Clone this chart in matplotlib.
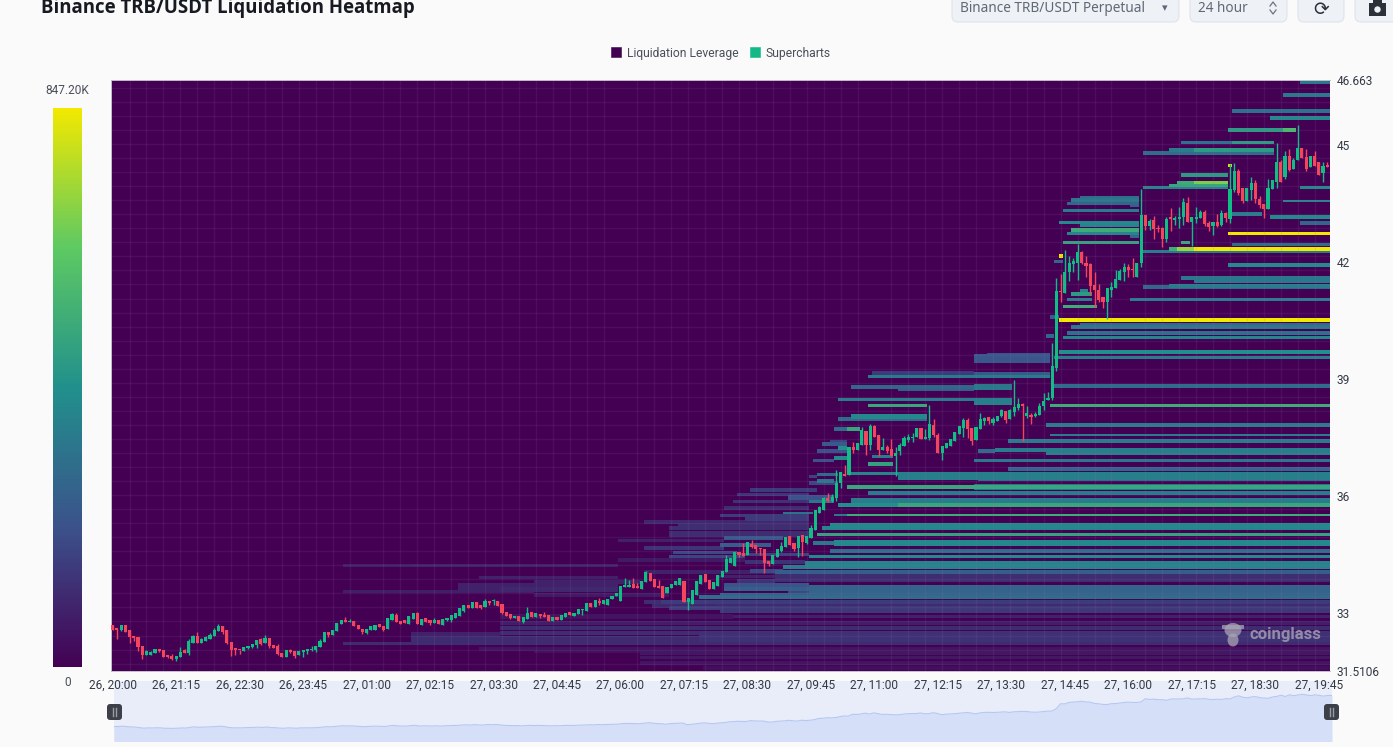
# -*- coding: utf-8 -*-
# TRB/USDT liquidation heatmap with 5 min candles, 24 h window
import matplotlib
matplotlib.use('Agg')
import matplotlib.pyplot as plt
import numpy as np
from matplotlib.colors import LinearSegmentedColormap
from matplotlib.lines import Line2D
from matplotlib.patches import Circle, Ellipse, FancyBboxPatch, Patch, Rectangle
from matplotlib.transforms import IdentityTransform

plt.rcParams['font.family'] = ['Roboto', 'DejaVu Sans']

W, H = 1393, 747

time_labels = ['26, 20:00', '26, 21:15', '26, 22:30', '26, 23:45', '27, 01:00', '27, 02:15', '27, 03:30',
               '27, 04:45', '27, 06:00', '27, 07:15', '27, 08:30', '27, 09:45', '27, 11:00', '27, 12:15',
               '27, 13:30', '27, 14:45', '27, 16:00', '27, 17:15', '27, 18:30', '27, 19:45']
price_ticks = [31.5106, 33, 36, 39, 42, 45, 46.663]
price_tick_labels = ['31.5106', '33', '36', '39', '42', '45', '46.663']
max_liq = 847200

opens = [
    32.69, 32.62, 32.55, 32.68, 32.56, 32.41, 32.38, 32.15, 31.91, 31.93,
    31.96, 32.07, 32.06, 31.91, 31.89, 31.81, 31.86, 32.04, 31.98, 32.24,
    32.42, 32.24, 32.27, 32.34, 32.40, 32.53, 32.66, 32.55, 32.26, 32.07,
    32.06, 32.02, 32.09, 32.12, 32.18, 32.32, 32.22, 32.35, 32.17, 32.14,
    31.97, 31.87, 32.06, 32.03, 31.91, 32.01, 32.02, 32.04, 32.05, 32.12,
    32.25, 32.50, 32.43, 32.54, 32.72, 32.80, 32.76, 32.80, 32.69, 32.58,
    32.48, 32.57, 32.56, 32.71, 32.66, 32.58, 32.82, 32.95, 32.80, 32.82,
    32.72, 32.84, 33.01, 32.70, 32.86, 32.81, 32.74, 32.83, 32.70, 32.82,
    32.81, 32.87, 32.91, 33.05, 33.21, 33.12, 33.28, 33.21, 33.14, 33.30,
    33.30, 33.30, 33.23, 33.02, 32.96, 32.86, 32.92, 32.76, 32.84, 33.03,
    32.90, 32.97, 32.95, 32.94, 32.80, 32.89, 32.82, 32.90, 33.02, 32.92,
    32.96, 33.07, 33.05, 33.25, 33.16, 33.31, 33.22, 33.21, 33.36, 33.44,
    33.31, 33.66, 33.67, 33.73, 33.69, 33.62, 33.79, 34.02, 33.86, 33.69,
    33.69, 33.50, 33.64, 33.71, 33.72, 33.83, 33.27, 33.22, 33.46, 33.73,
    33.99, 33.84, 33.62, 33.70, 33.93, 34.04, 34.27, 34.19, 34.55, 34.53,
    34.49, 34.77, 34.73, 34.67, 34.64, 34.33, 34.26, 34.44, 34.59, 34.70,
    34.97, 34.79, 34.66, 35.00, 34.79, 34.93, 35.13, 35.57, 35.64, 35.94,
    35.88, 35.94, 36.32, 36.56, 36.54, 37.26, 37.18, 37.31, 37.67, 37.31,
    37.78, 37.55, 37.18, 37.25, 37.20, 37.03, 37.14, 37.28, 37.44, 37.48,
    37.52, 37.73, 37.45, 37.48, 37.82, 37.56, 37.11, 37.22, 37.28, 37.42,
    37.59, 37.73, 37.95, 37.75, 37.44, 37.71, 37.91, 38.01, 37.86, 37.93,
    38.05, 38.18, 37.97, 38.14, 38.25, 38.33, 38.06, 38.08, 38.05, 38.08,
    38.31, 38.46, 38.50, 39.27, 41.24, 41.21, 41.75, 41.95, 41.97, 42.25,
    41.97, 41.94, 41.41, 41.28, 41.11, 40.96, 41.28, 41.32, 41.54, 41.74,
    41.88, 41.81, 41.62, 41.97, 43.19, 42.92, 43.08, 42.88, 42.86, 42.58,
    43.12, 43.08, 43.10, 43.15, 43.52, 43.01, 43.11, 43.13, 43.27, 43.00,
    42.91, 43.01, 42.94, 43.26, 43.09, 43.83, 44.32, 43.89, 43.57, 43.85,
    44.03, 43.62, 43.49, 43.36, 43.87, 44.06, 44.55, 44.17, 44.72, 44.38,
    44.60, 44.91, 44.70, 44.44, 44.72, 44.55, 44.27, 44.46,
]
closes = [
    32.56, 32.55, 32.68, 32.52, 32.38, 32.35, 32.12, 31.91, 32.03, 31.99,
    32.07, 32.03, 31.88, 31.88, 31.83, 31.90, 32.00, 31.97, 32.27, 32.41,
    32.24, 32.33, 32.39, 32.44, 32.55, 32.67, 32.52, 32.22, 32.05, 32.05,
    32.04, 32.13, 32.16, 32.21, 32.30, 32.20, 32.35, 32.14, 32.11, 31.95,
    31.88, 32.05, 31.99, 31.90, 32.03, 32.04, 32.07, 32.08, 32.15, 32.29,
    32.50, 32.44, 32.56, 32.74, 32.82, 32.77, 32.79, 32.67, 32.58, 32.50,
    32.58, 32.67, 32.68, 32.63, 32.56, 32.87, 32.97, 32.77, 32.72, 32.73,
    32.91, 33.01, 32.71, 32.85, 32.77, 32.73, 32.83, 32.71, 32.84, 32.88,
    32.94, 33.00, 33.13, 33.20, 33.12, 33.28, 33.13, 33.13, 33.31, 33.25,
    33.33, 33.17, 32.99, 32.93, 32.88, 32.93, 32.79, 32.89, 33.01, 32.90,
    32.99, 32.93, 32.90, 32.80, 32.89, 32.82, 32.95, 33.00, 32.95, 33.00,
    33.11, 33.10, 33.25, 33.16, 33.33, 33.25, 33.33, 33.36, 33.44, 33.50,
    33.69, 33.72, 33.72, 33.65, 33.63, 33.82, 34.04, 33.83, 33.67, 33.65,
    33.38, 33.67, 33.73, 33.83, 33.89, 33.27, 33.38, 33.59, 33.82, 33.97,
    33.79, 33.62, 33.79, 33.97, 34.08, 34.37, 34.42, 34.57, 34.49, 34.47,
    34.83, 34.68, 34.64, 34.63, 34.27, 34.25, 34.49, 34.64, 34.72, 34.94,
    34.73, 34.64, 34.97, 34.83, 34.97, 35.17, 35.64, 35.71, 35.94, 35.88,
    35.98, 36.32, 36.61, 36.51, 37.25, 37.18, 37.35, 37.69, 37.31, 37.78,
    37.50, 37.18, 37.25, 37.16, 37.03, 37.09, 37.31, 37.48, 37.50, 37.52,
    37.73, 37.45, 37.50, 37.84, 37.56, 37.09, 37.28, 37.35, 37.45, 37.63,
    37.78, 37.95, 37.71, 37.42, 37.76, 37.97, 37.99, 37.93, 37.97, 38.06,
    38.19, 37.95, 38.19, 38.29, 38.36, 38.31, 38.12, 38.03, 38.10, 38.31,
    38.44, 38.50, 39.32, 41.26, 41.22, 41.75, 41.97, 42.01, 42.25, 41.97,
    41.90, 41.38, 41.27, 41.03, 40.96, 41.32, 41.35, 41.56, 41.77, 41.88,
    41.79, 41.78, 41.98, 43.19, 42.92, 43.05, 42.84, 42.84, 42.58, 43.10,
    43.10, 43.12, 43.16, 43.53, 43.01, 43.14, 43.16, 43.27, 42.97, 42.89,
    43.01, 42.92, 43.25, 43.12, 43.87, 44.33, 43.76, 43.55, 43.89, 44.03,
    43.61, 43.46, 43.36, 43.89, 44.10, 44.55, 44.06, 44.72, 44.36, 44.62,
    44.91, 44.66, 44.38, 44.72, 44.46, 44.23, 44.46, 44.44,
]
highs = [
    32.70, 32.62, 32.69, 32.69, 32.56, 32.41, 32.38, 32.15, 32.05, 32.03,
    32.07, 32.07, 32.06, 31.91, 31.95, 31.90, 32.12, 32.08, 32.33, 32.44,
    32.50, 32.36, 32.40, 32.48, 32.62, 32.72, 32.66, 32.57, 32.26, 32.07,
    32.06, 32.13, 32.16, 32.21, 32.30, 32.36, 32.43, 32.35, 32.17, 32.20,
    31.97, 32.05, 32.07, 32.03, 32.03, 32.04, 32.07, 32.14, 32.15, 32.33,
    32.50, 32.50, 32.56, 32.74, 32.82, 32.89, 32.85, 32.80, 32.69, 32.58,
    32.58, 32.67, 32.68, 32.72, 32.66, 32.87, 33.01, 33.00, 32.80, 32.83,
    32.91, 33.01, 33.03, 32.85, 32.86, 32.81, 32.88, 32.83, 32.84, 32.88,
    32.94, 33.01, 33.13, 33.20, 33.21, 33.28, 33.28, 33.21, 33.35, 33.30,
    33.36, 33.30, 33.23, 33.02, 32.96, 32.93, 32.92, 32.89, 33.14, 33.03,
    33.01, 32.97, 33.02, 32.94, 32.89, 32.89, 32.95, 33.00, 33.02, 33.00,
    33.11, 33.10, 33.25, 33.25, 33.33, 33.37, 33.33, 33.36, 33.44, 33.50,
    33.69, 33.89, 33.85, 33.89, 33.76, 33.82, 34.08, 34.02, 33.86, 33.85,
    33.69, 33.67, 33.73, 33.83, 33.89, 33.83, 33.38, 33.59, 33.82, 33.97,
    33.99, 33.84, 33.79, 33.97, 34.08, 34.49, 34.42, 34.57, 34.55, 34.80,
    34.83, 34.87, 34.73, 34.67, 34.64, 34.33, 34.49, 34.64, 34.83, 34.94,
    34.97, 34.79, 34.97, 35.00, 34.97, 35.26, 35.64, 35.74, 35.98, 36.07,
    36.05, 36.67, 36.61, 36.78, 37.25, 37.39, 37.35, 37.76, 37.67, 37.84,
    37.82, 37.55, 37.48, 37.31, 37.45, 37.25, 37.35, 37.54, 37.58, 37.61,
    37.73, 37.73, 37.71, 38.33, 37.97, 37.61, 37.28, 37.35, 37.45, 37.63,
    37.78, 37.99, 37.99, 37.75, 37.76, 38.12, 38.03, 38.01, 38.01, 38.06,
    38.22, 38.18, 38.22, 38.97, 38.50, 38.38, 38.31, 38.12, 38.16, 38.38,
    38.65, 38.66, 39.91, 41.58, 41.69, 42.31, 42.16, 42.09, 42.46, 42.27,
    42.16, 41.97, 41.73, 41.44, 41.11, 41.32, 41.48, 41.79, 41.81, 41.97,
    41.94, 42.09, 41.98, 43.87, 43.19, 43.10, 43.18, 42.95, 42.89, 43.16,
    43.39, 43.18, 43.40, 43.63, 43.67, 43.16, 43.40, 43.33, 43.32, 43.06,
    43.01, 43.22, 43.32, 43.29, 44.51, 44.53, 44.38, 43.89, 43.89, 44.17,
    44.09, 43.69, 43.49, 44.12, 44.10, 45.04, 44.61, 44.83, 44.89, 44.66,
    45.51, 44.91, 44.89, 44.72, 44.85, 44.55, 44.55, 44.55,
]
lows = [
    32.55, 32.33, 32.54, 32.50, 32.24, 32.27, 32.03, 31.81, 31.91, 31.93,
    31.96, 31.99, 31.88, 31.84, 31.79, 31.77, 31.86, 31.97, 31.91, 32.24,
    32.24, 32.24, 32.27, 32.34, 32.40, 32.53, 32.46, 32.20, 31.90, 31.91,
    31.95, 32.02, 32.07, 32.09, 32.09, 32.18, 32.22, 32.11, 32.11, 31.91,
    31.88, 31.87, 31.97, 31.84, 31.91, 31.88, 31.95, 32.02, 32.00, 32.12,
    32.25, 32.38, 32.43, 32.54, 32.72, 32.77, 32.76, 32.67, 32.58, 32.46,
    32.46, 32.57, 32.56, 32.63, 32.54, 32.58, 32.82, 32.77, 32.72, 32.73,
    32.72, 32.84, 32.71, 32.70, 32.77, 32.68, 32.74, 32.71, 32.70, 32.80,
    32.76, 32.87, 32.91, 33.03, 33.12, 33.12, 33.13, 33.09, 33.14, 33.19,
    33.20, 33.17, 32.96, 32.93, 32.84, 32.86, 32.79, 32.73, 32.84, 32.90,
    32.90, 32.88, 32.90, 32.80, 32.80, 32.82, 32.82, 32.90, 32.95, 32.92,
    32.96, 32.95, 33.05, 33.16, 33.16, 33.19, 33.22, 33.21, 33.36, 33.44,
    33.31, 33.66, 33.67, 33.65, 33.63, 33.62, 33.79, 33.83, 33.67, 33.65,
    33.38, 33.50, 33.64, 33.71, 33.72, 33.27, 33.08, 33.22, 33.46, 33.73,
    33.79, 33.62, 33.62, 33.70, 33.93, 34.04, 34.27, 34.19, 34.43, 34.47,
    34.49, 34.66, 34.53, 34.49, 34.03, 34.19, 34.26, 34.44, 34.57, 34.70,
    34.73, 34.59, 34.43, 34.45, 34.76, 34.93, 35.13, 35.55, 35.64, 35.85,
    35.85, 35.88, 36.21, 36.51, 36.54, 37.09, 37.18, 37.31, 37.05, 37.18,
    37.50, 37.03, 37.18, 37.09, 37.03, 36.50, 37.05, 37.28, 37.39, 37.37,
    37.52, 37.45, 37.45, 37.44, 37.52, 37.09, 36.91, 37.22, 37.28, 37.42,
    37.59, 37.52, 37.48, 37.31, 37.44, 37.71, 37.82, 37.84, 37.82, 37.93,
    38.01, 37.88, 37.97, 38.06, 38.20, 37.41, 37.99, 37.85, 38.03, 38.08,
    38.20, 38.46, 38.45, 39.21, 40.98, 41.20, 41.52, 41.75, 41.54, 41.95,
    41.62, 41.15, 40.85, 40.96, 40.81, 40.53, 41.11, 41.32, 41.54, 41.50,
    41.62, 41.61, 41.62, 41.88, 42.82, 42.82, 42.58, 42.76, 42.37, 42.50,
    42.78, 42.95, 42.86, 42.95, 43.01, 42.41, 42.99, 43.13, 42.91, 42.80,
    42.69, 42.89, 42.91, 43.03, 42.99, 43.78, 43.72, 43.50, 43.57, 43.59,
    43.52, 43.38, 43.12, 43.36, 43.87, 43.89, 44.06, 44.12, 44.34, 44.38,
    44.60, 44.66, 44.34, 44.44, 44.46, 44.23, 44.06, 44.44,
]

# heatmap bands: price centre, band height, first/last candle, share of max liquidation
band_price = [
    46.62, 46.28, 45.87, 45.69, 45.38, 45.38, 45.05, 45.05, 44.87, 44.87,
    44.79, 44.46, 44.23, 44.03, 44.03, 43.95, 43.90, 43.90, 43.56, 43.23,
    43.15, 42.99, 42.73, 42.44, 42.33, 42.33, 42.33, 42.26, 41.92, 41.59,
    41.51, 41.38, 41.35, 41.03, 40.51, 40.38, 40.33, 40.18, 40.05, 39.69,
    39.54, 43.64, 43.59, 43.49, 43.44, 43.31, 43.00, 42.95, 42.82, 42.73,
    42.67, 42.49, 42.15, 42.00, 42.49, 41.18, 41.26, 41.03, 40.85, 40.59,
    40.10, 39.52, 39.62, 39.13, 39.15, 39.05, 38.79, 38.75, 38.79, 38.46,
    38.42, 38.31, 38.31, 38.82, 38.03, 37.97, 37.82, 37.72, 37.72, 37.56,
    37.38, 37.40, 37.33, 37.23, 37.15, 37.18, 37.15, 37.15, 37.00, 36.97,
    36.90, 36.90, 36.82, 36.58, 36.51, 36.69, 36.41, 36.54, 36.49, 36.38,
    36.23, 36.23, 36.08, 36.08, 35.87, 35.77, 35.77, 35.51, 35.51, 35.18,
    35.24, 35.01, 34.79, 34.79, 34.59, 34.44, 34.23, 34.18, 34.05, 34.08,
    33.88, 33.82, 33.93, 33.72, 33.56, 33.62, 33.55, 33.46, 33.40, 33.28,
    33.13, 33.23, 33.03, 32.90, 32.62, 32.49, 32.30, 32.21, 32.08, 31.97,
    31.72, 31.59, 32.40, 34.21, 33.54, 33.65, 33.90, 34.21, 33.28, 33.13,
    34.67, 34.54, 34.44, 34.92, 34.74, 35.26, 35.33, 35.18, 35.49, 35.69,
    35.85, 36.03, 36.15, 35.56, 35.85,
    33.60, 33.80, 34.05, 33.45, 33.18, 32.90, 32.75, 32.45, 31.85, 32.02,
    34.85, 35.02, 35.40, 35.95, 36.32, 34.50, 34.30, 34.35,
]
band_height = [
    0.09, 0.065, 0.065, 0.065, 0.065, 0.065, 0.065, 0.065, 0.08, 0.08,
    0.065, 0.07, 0.065, 0.065, 0.065, 0.08, 0.065, 0.065, 0.065, 0.065,
    0.065, 0.065, 0.09, 0.09, 0.09, 0.09, 0.09, 0.065, 0.065, 0.08,
    0.12, 0.10, 0.065, 0.065, 0.10, 0.10, 0.065, 0.065, 0.065, 0.075,
    0.065, 0.12, 0.10, 0.065, 0.08, 0.065, 0.065, 0.14, 0.10, 0.065,
    0.08, 0.065, 0.07, 0.065, 0.065, 0.065, 0.07, 0.065, 0.065, 0.065,
    0.065, 0.23, 0.10, 0.12, 0.08, 0.065, 0.09, 0.12, 0.16, 0.065,
    0.16, 0.07, 0.07, 0.065, 0.13, 0.065, 0.065, 0.065, 0.065, 0.065,
    0.065, 0.065, 0.065, 0.065, 0.065, 0.10, 0.07, 0.17, 0.065, 0.065,
    0.065, 0.065, 0.075, 0.065, 0.22, 0.10, 0.08, 0.065, 0.065, 0.065,
    0.075, 0.13, 0.08, 0.10, 0.14, 0.07, 0.07, 0.07, 0.07, 0.065,
    0.13, 0.065, 0.065, 0.16, 0.065, 0.065, 0.18, 0.065, 0.12, 0.065,
    0.20, 0.065, 0.065, 0.065, 0.30, 0.065, 0.10, 0.065, 0.065, 0.065,
    0.065, 0.08, 0.065, 0.065, 0.065, 0.12, 0.20, 0.065, 0.07, 0.07,
    0.07, 0.07, 0.30, 0.065, 0.065, 0.22, 0.065, 0.08, 0.065, 0.065,
    0.065, 0.065, 0.07, 0.07, 0.07, 0.065, 0.065, 0.07, 0.065, 0.07,
    0.065, 0.07, 0.07, 0.065, 0.065,
    0.12, 0.10, 0.10, 0.08, 0.10, 0.12, 0.10, 0.10, 0.07, 0.07,
    0.07, 0.15, 0.10, 0.12, 0.10, 0.10, 0.10, 0.08,
]
band_start = [
    281, 277, 265, 274, 264, 277, 253, 265, 250, 256,
    244, 264, 253, 256, 252, 250, 244, 281, 277, 265,
    274, 281, 264, 265, 250, 252, 256, 244, 264, 253,
    256, 250, 244, 241, 224, 229, 227, 226, 225, 224,
    223, 229, 227, 226, 241, 225, 224, 229, 227, 226,
    241, 225, 224, 223, 253, 227, 229, 226, 225, 222,
    221, 204, 207, 204, 180, 179, 175, 186, 204, 172,
    204, 179, 222, 223, 175, 172, 221, 171, 174, 222,
    170, 212, 168, 172, 167, 209, 205, 221, 180, 171,
    204, 166, 179, 175, 186, 212, 205, 167, 165, 167,
    174, 204, 179, 204, 175, 172, 186, 171, 174, 168,
    170, 167, 166, 171, 170, 165, 164, 159, 157, 151,
    157, 148, 143, 145, 165, 145, 160, 144, 139, 130,
    145, 143, 144, 147, 92, 92, 71, 55, 87, 125,
    125, 140, 139, 55, 55, 82, 87, 71, 126, 132,
    126, 133, 132, 145, 144, 134, 126, 132, 144, 145,
    147, 148, 151, 159, 165,
    92, 100, 126, 100, 128, 92, 92, 71, 125, 100,
    120, 132, 150, 160, 165, 148, 150, 120,
]
band_end = [
    288, 288, 288, 288, 277, 280, 265, 275, 256, 275,
    275, 265, 264, 264, 256, 264, 264, 288, 288, 272,
    288, 288, 288, 288, 252, 256, 288, 288, 288, 288,
    288, 288, 288, 288, 288, 288, 288, 288, 288, 288,
    288, 243, 243, 243, 243, 243, 243, 243, 243, 243,
    243, 243, 225, 225, 255, 232, 231, 232, 233, 224,
    223, 222, 222, 222, 204, 222, 213, 204, 213, 213,
    213, 193, 288, 288, 193, 193, 288, 174, 177, 288,
    174, 288, 174, 174, 174, 288, 209, 288, 185, 174,
    288, 171, 185, 186, 288, 288, 288, 172, 167, 171,
    288, 288, 288, 288, 288, 288, 288, 288, 288, 288,
    288, 288, 171, 288, 288, 288, 288, 164, 288, 159,
    288, 157, 157, 165, 288, 165, 165, 165, 288, 288,
    288, 288, 288, 288, 288, 288, 288, 288, 288, 288,
    288, 288, 288, 120, 100, 120, 120, 120, 130, 145,
    145, 148, 150, 159, 156, 165, 165, 165, 165, 165,
    165, 165, 167, 166, 171,
    120, 125, 157, 132, 145, 147, 288, 92, 288, 288,
    145, 165, 165, 171, 172, 165, 164, 150,
]
band_value = [
    0.40, 0.40, 0.38, 0.47, 0.55, 0.68, 0.38, 0.55, 0.42, 0.55,
    0.36, 0.95, 0.55, 0.80, 0.62, 0.60, 0.45, 0.47, 0.45, 0.42,
    0.47, 0.33, 1.00, 0.36, 0.62, 0.85, 1.00, 0.42, 0.48, 0.40,
    0.40, 0.42, 0.33, 0.42, 1.00, 0.33, 0.40, 0.38, 0.45, 0.50,
    0.42, 0.36, 0.40, 0.33, 0.30, 0.42, 0.47, 0.45, 0.62, 0.45,
    0.33, 0.58, 1.00, 0.33, 0.60, 0.55, 0.45, 0.42, 0.62, 0.30,
    0.33, 0.27, 0.25, 0.28, 0.18, 0.42, 0.33, 0.30, 0.40, 0.42,
    0.43, 0.60, 0.62, 0.35, 0.47, 0.35, 0.42, 0.35, 0.60, 0.42,
    0.20, 0.42, 0.28, 0.50, 0.25, 0.42, 0.35, 0.43, 0.42, 0.48,
    0.40, 0.25, 0.58, 0.45, 0.43, 0.33, 0.33, 0.35, 0.20, 0.40,
    0.60, 0.38, 0.42, 0.40, 0.42, 0.50, 0.60, 0.40, 0.62, 0.45,
    0.47, 0.58, 0.40, 0.47, 0.36, 0.47, 0.45, 0.42, 0.30, 0.22,
    0.14, 0.15, 0.10, 0.25, 0.32, 0.30, 0.22, 0.30, 0.36, 0.18,
    0.17, 0.13, 0.17, 0.10, 0.13, 0.14, 0.13, 0.13, 0.06, 0.07,
    0.06, 0.04, 0.15, 0.09, 0.09, 0.10, 0.10, 0.10, 0.14, 0.18,
    0.16, 0.22, 0.20, 0.28, 0.30, 0.14, 0.12, 0.14, 0.18, 0.14,
    0.15, 0.16, 0.18, 0.38, 0.40,
    0.12, 0.10, 0.10, 0.08, 0.12, 0.06, 0.09, 0.10, 0.07, 0.05,
    0.10, 0.14, 0.18, 0.25, 0.22, 0.20, 0.15, 0.08,
]

# top controls
pair_label = 'Binance TRB/USDT Perpetual'
window_label = '24 hour'
page_title = 'Binance TRB/USDT Liquidation Heatmap'
legend_labels = ['Liquidation Leverage', 'Supercharts']

X_MIN, X_MAX = -0.5, 287.64
Y_MIN, Y_MAX = 31.5106, 46.663
MIN_BAND = 0.085

opens = np.array(opens)
closes = np.array(closes)
highs = np.array(highs)
lows = np.array(lows)
idx = np.arange(len(closes))

# fill the cell matrix from the bands
y_edges = np.arange(Y_MIN, Y_MAX + 0.0125, 0.0125)
y_mid = (y_edges[:-1] + y_edges[1:]) / 2
x_edges = np.arange(len(closes) + 1) - 0.5
x_edges[-1] = X_MAX
cells = np.zeros((len(y_mid), len(closes)))
for p, h, s, e, v in zip(band_price, band_height, band_start, band_end, band_value):
    rows = np.abs(y_mid - p) <= max(h, MIN_BAND) / 2
    cells[rows, s:e] = np.maximum(cells[rows, s:e], v * max_liq)

cmap = LinearSegmentedColormap.from_list(
    'liq', ['#440154', '#3b528b', '#21908c', '#5dc963', '#f2e900'])


def box(x0, y0, x1, y1):
    # pixel box (from the top left) to figure fractions
    return [x0 / W, 1 - y1 / H, (x1 - x0) / W, (y1 - y0) / H]


fig = plt.figure(figsize=(W / 100, H / 100), dpi=100, facecolor='#fafafa')

ax = fig.add_axes(box(110.5, 80, 1330, 671))
ax.set_zorder(2)
mesh = ax.pcolormesh(x_edges, y_edges, cells, cmap=cmap, vmin=0, vmax=max_liq,
                     shading='flat', rasterized=True, zorder=1)
ax.set_xlim(X_MIN, X_MAX)
ax.set_ylim(Y_MIN, Y_MAX)

# faint grid
ax.set_xticks(np.arange(0, 288, 4), minor=True)
ax.set_yticks(np.arange(31.7, 46.7, 0.36), minor=True)
ax.grid(which='minor', color='#9a6fb0', alpha=0.12, lw=1.0, zorder=1.5)
ax.tick_params(which='minor', length=0)

up = closes >= opens
colors = np.where(up, '#10bd84', '#f5455c')
ax.vlines(idx, lows, highs, colors=colors, lw=1.0, zorder=3)
ax.bar(idx, np.maximum(np.abs(closes - opens), 0.04), bottom=np.minimum(opens, closes),
       width=0.74, color=colors, linewidth=0, zorder=4)

ax.set_xticks(idx[::15][:len(time_labels)], time_labels)
ax.yaxis.tick_right()
ax.set_yticks(price_ticks, price_tick_labels)
ax.tick_params(axis='x', length=0, labelsize=8.6, pad=5.5, colors='#333a45')
ax.tick_params(axis='y', length=0, labelsize=8.6, pad=5, colors='#333a45')
for name, sp in ax.spines.items():
    sp.set_visible(name != 'right')
    sp.set_color('#c4bfcc')
    sp.set_linewidth(0.7)

# watermark and page icons share one pixel-sized overlay
ax_wm = fig.add_axes([0, 0, 1, 1], facecolor='none')
ax_wm.set_xlim(0, W)
ax_wm.set_ylim(H, 0)
ax_wm.axis('off')
ax_wm.set_zorder(5)
wm = '#a9a4b4'
ax_wm.add_patch(Ellipse((1233, 630), 17, 14, color=wm, alpha=0.75, lw=0))
ax_wm.add_patch(Ellipse((1233, 640), 11, 13, color=wm, alpha=0.75, lw=0))
ax_wm.add_patch(Rectangle((1222, 625), 22, 4, color=wm, alpha=0.75, lw=0))
ax_wm.text(1249, 635, 'coinglass', fontsize=12, fontweight='bold', color=wm, alpha=0.8,
           ha='left', va='center')

# colour scale
cax = fig.add_axes(box(53, 108, 82, 667))
cbar = fig.colorbar(mesh, cax=cax)
cbar.outline.set_visible(False)
cbar.set_ticks([])
fig.text(67.5 / W, 1 - 91 / H, '847.20K', fontsize=8.6, color='#4a4f5a', ha='center', va='center')
fig.text(67.5 / W, 1 - 683 / H, '0', fontsize=8.6, color='#4a4f5a', ha='center', va='center')

# legend
handles = [Patch(facecolor='#440154', edgecolor='#2f1140', lw=0.4),
           Patch(facecolor='#12b886', edgecolor='#12b886', lw=0.4)]
fig.legend(handles, legend_labels, ncol=2, loc='center', bbox_to_anchor=(721 / W, 1 - 53 / H),
           frameon=False, fontsize=8.7, handlelength=0.8, handleheight=0.9, handletextpad=0.5,
           columnspacing=1.0, labelcolor='#4a4f5a')

# range slider under the chart, behind the time labels
ax_nav = fig.add_axes(box(114, 681, 1332, 741), facecolor='#e8edf9')
ax_nav.set_zorder(1)
ax_nav.fill_between(idx, closes, 20, color='#d5dff8', lw=0)
ax_nav.plot(idx, closes, color='#b6c8f2', lw=0.8)
ax_nav.set_xlim(0, 287)
ax_nav.set_ylim(27.0, 50.0)
ax_nav.set_xticks([])
ax_nav.set_yticks([])
for sp in ax_nav.spines.values():
    sp.set_visible(False)

for x0 in (107, 1324):
    fig.add_artist(FancyBboxPatch((x0 + 2, H - 718), 11, 12, boxstyle='round,pad=2,rounding_size=3',
                                  fc='#3d4049', ec='none', transform=IdentityTransform(), zorder=3))
    for dx in (6, 9):
        fig.add_artist(Line2D([(x0 + dx) / W] * 2, [1 - 708 / H, 1 - 716 / H], color='#9a9ca4',
                              lw=1.0, zorder=4))

# page header
fig.text(41 / W, 1 - 8 / H, page_title, family='Open Sans', fontsize=13.4, fontweight='bold',
         color='#171a21', ha='left', va='center')
for x0, x1 in ((951, 1180), (1189, 1288), (1297, 1345), (1354, 1400)):
    fig.add_artist(FancyBboxPatch((x0 + 5, H - 18), x1 - x0 - 10, 40,
                                  boxstyle='round,pad=4,rounding_size=6',
                                  fc='#eef1f6', ec='#dde1e8', lw=0.7, transform=IdentityTransform()))
fig.text(960 / W, 1 - 8.5 / H, pair_label, family='Noto Sans', fontsize=9.8, color='#5f6875',
         ha='left', va='center', zorder=3)
fig.text(1198 / W, 1 - 8.5 / H, window_label, family='Noto Sans', fontsize=9.8, color='#5f6875',
         ha='left', va='center', zorder=3)
fig.text(1164.5 / W, 1 - 8 / H, '▾', family='DejaVu Sans', fontsize=8, color='#5f6875',
         ha='center', va='center', zorder=3)
for ys in ((6, 2, 6), (10, 14, 10)):
    fig.add_artist(Line2D([1270 / W, 1273 / W, 1276 / W], [1 - y / H for y in ys],
                          color='#6b7480', lw=0.9, zorder=3))
fig.text(1321 / W, 1 - 9 / H, '⟳', family='DejaVu Sans', fontsize=13.5, color='#2c3038',
         ha='center', va='center', zorder=3)
ax_wm.add_patch(Rectangle((1369, 3), 17, 13, color='#2c3038', lw=0))
ax_wm.add_patch(Rectangle((1373, 0), 9, 4, color='#2c3038', lw=0))
ax_wm.add_patch(Circle((1377.5, 9.5), 3.2, color='#eef1f6', lw=0))

fig.savefig('out.png', dpi=100, facecolor=fig.get_facecolor())
plt.close(fig)
